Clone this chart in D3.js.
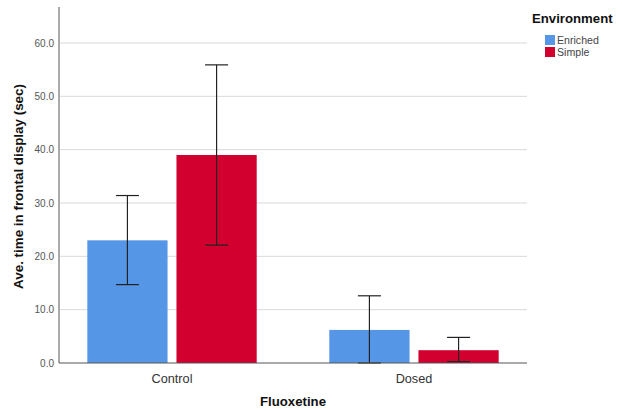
<!DOCTYPE html>
<html>
<head>
<meta charset="utf-8">
<script src="https://cdn.jsdelivr.net/npm/d3@7"></script>
<style>
  body { margin: 0; background: #fff; }
  svg { font-family: Arial, "Liberation Sans", sans-serif; }
</style>
</head>
<body>
<svg id="chart" width="623" height="411"></svg>
<script>
// datos
const groups = ["Control", "Dosed"];
const envs = ["Enriched", "Simple"];
const colors = ["#5596e6", "#d2002f"];
const means = [[23.0, 39.0], [6.2, 2.4]];
const errLow = [[14.7, 22.1], [0.0, 0.25]];
const errHigh = [[31.4, 55.9], [12.6, 4.8]];
const yTicks = [0, 10, 20, 30, 40, 50, 60];

const svg = d3.select("#chart");
const mLeft = 59, mRight = 527, mTop = 7, mBottom = 363;

const y = d3.scaleLinear().domain([0, 66.75]).range([mBottom, mTop]);
const x0 = d3.scaleBand().domain(groups).range([mLeft, mRight])
  .paddingInner(0.3).paddingOuter(0.117);
const x1 = d3.scaleBand().domain(envs).range([0, x0.bandwidth()]).paddingInner(0.1);

// grid
svg.append("g")
  .selectAll("line")
  .data(yTicks.filter(d => d > 0))
  .enter().append("line")
  .attr("x1", mLeft).attr("x2", mRight)
  .attr("y1", d => y(d)).attr("y2", d => y(d))
  .attr("stroke", "#d9d9d9").attr("stroke-width", 1);

// eje y
const yAxis = svg.append("g")
  .attr("transform", `translate(${mLeft},0)`)
  .call(d3.axisLeft(y).tickValues(yTicks).tickFormat(d3.format(".1f")).tickSize(0).tickPadding(5));
yAxis.select(".domain").remove();
yAxis.selectAll("text").attr("fill", "#555").style("font-size", "10px");

svg.append("line")
  .attr("x1", mLeft).attr("x2", mLeft).attr("y1", mTop).attr("y2", mBottom)
  .attr("stroke", "#aaa").attr("stroke-width", 2);

// barras
const data = [];
groups.forEach((g, i) => envs.forEach((e, j) => data.push({
  g, e, j, m: means[i][j], lo: errLow[i][j], hi: errHigh[i][j]
})));

const bars = svg.append("g").selectAll("g")
  .data(data).enter().append("g")
  .attr("transform", d => `translate(${x0(d.g) + x1(d.e)},0)`);

bars.append("rect")
  .attr("x", 0).attr("width", x1.bandwidth())
  .attr("y", d => y(d.m)).attr("height", d => y(0) - y(d.m))
  .attr("fill", d => colors[d.j]);

const cx = x1.bandwidth() / 2, cap = 11.5;
bars.append("line")
  .attr("x1", cx).attr("x2", cx)
  .attr("y1", d => y(d.lo)).attr("y2", d => y(d.hi))
  .attr("stroke", "#222").attr("stroke-width", 1.2);
bars.append("line")
  .attr("x1", cx - cap).attr("x2", cx + cap)
  .attr("y1", d => y(d.hi)).attr("y2", d => y(d.hi))
  .attr("stroke", "#222").attr("stroke-width", 1.2);
bars.append("line")
  .attr("x1", cx - cap).attr("x2", cx + cap)
  .attr("y1", d => y(d.lo)).attr("y2", d => y(d.lo))
  .attr("stroke", "#222").attr("stroke-width", 1.2);

// eje x
svg.append("line")
  .attr("x1", mLeft).attr("x2", mRight).attr("y1", mBottom).attr("y2", mBottom)
  .attr("stroke", "#555").attr("stroke-width", 1);

svg.append("g").selectAll("text")
  .data(groups).enter().append("text")
  .attr("x", d => x0(d) + x0.bandwidth() / 2)
  .attr("y", 383)
  .attr("text-anchor", "middle")
  .attr("fill", "#333").style("font-size", "12.7px")
  .text(d => d);

svg.append("text")
  .attr("x", (mLeft + mRight) / 2).attr("y", 406)
  .attr("text-anchor", "middle").attr("font-weight", "bold")
  .attr("fill", "#111").style("font-size", "13.2px")
  .text("Fluoxetine");

svg.append("text")
  .attr("transform", "translate(22.5,186.5) rotate(-90)")
  .attr("text-anchor", "middle").attr("font-weight", "bold")
  .attr("fill", "#111").style("font-size", "13.4px")
  .text("Ave. time in frontal display (sec)");

// leyenda
svg.append("text")
  .attr("x", 532).attr("y", 23)
  .attr("font-weight", "bold").attr("fill", "#111").style("font-size", "13.2px")
  .text("Environment");

const leg = svg.append("g").selectAll("g")
  .data(envs).enter().append("g")
  .attr("transform", (d, i) => `translate(545,${35 + i * 12})`);
leg.append("rect").attr("width", 10).attr("height", 10)
  .attr("fill", (d, i) => colors[i]);
leg.append("text").attr("x", 12).attr("y", 9)
  .attr("fill", "#444").style("font-size", "10.6px")
  .text(d => d);
</script>
</body>
</html>
